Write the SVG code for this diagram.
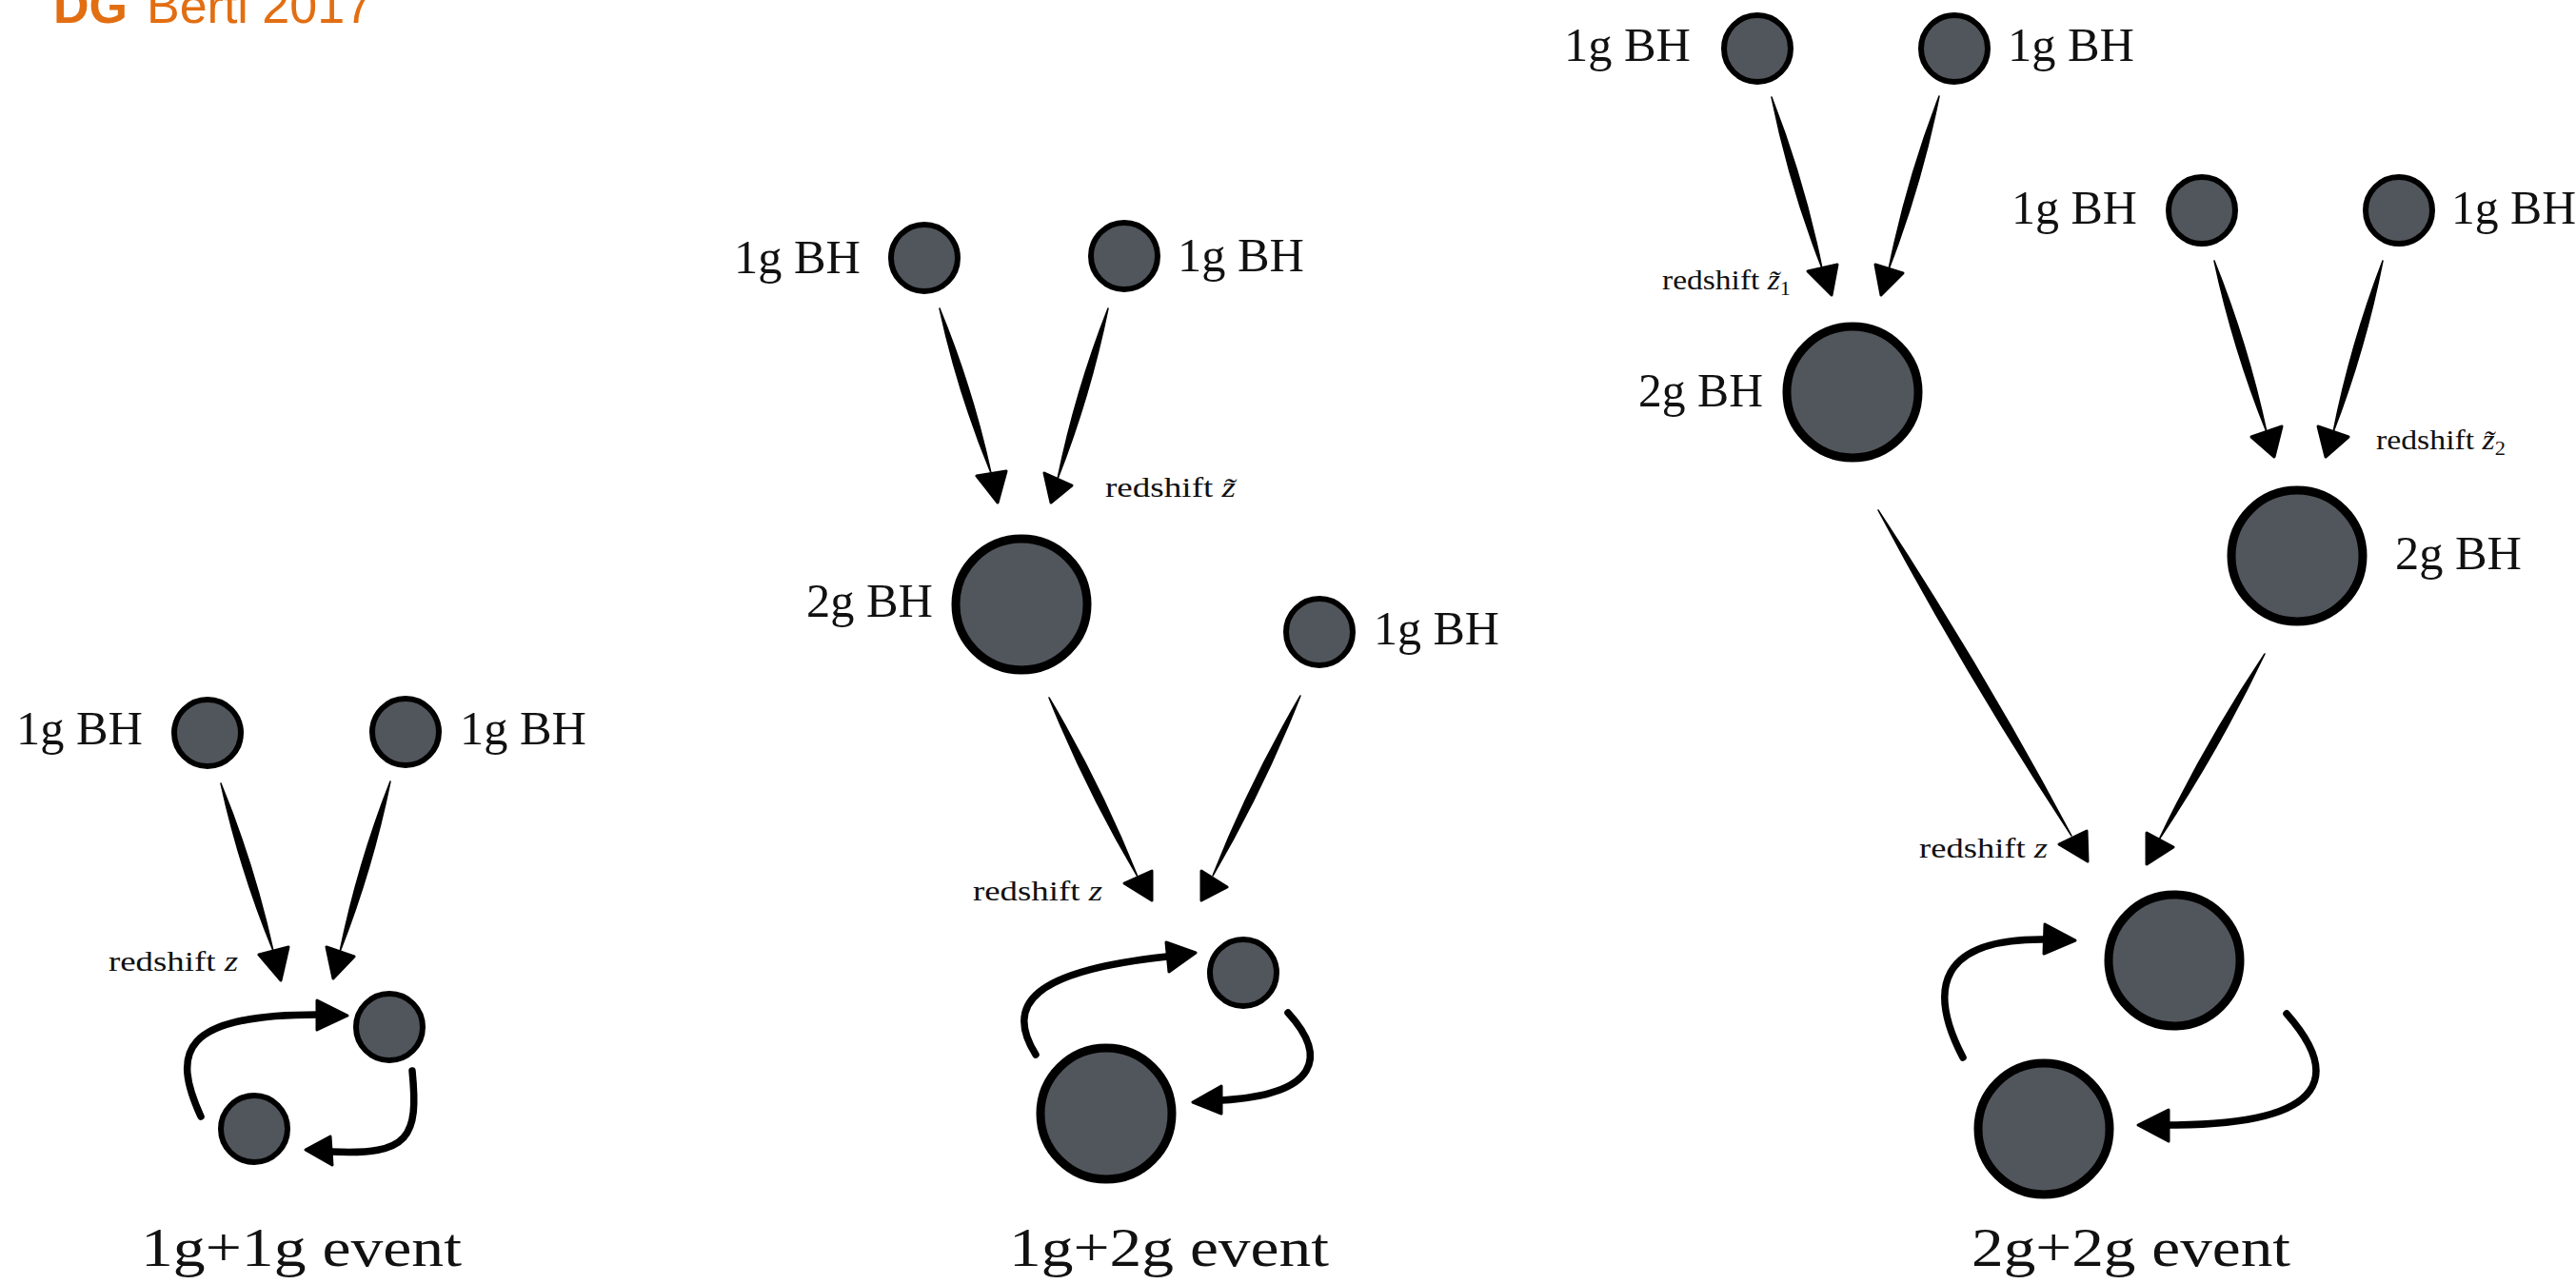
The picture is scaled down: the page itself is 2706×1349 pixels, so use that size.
<svg xmlns="http://www.w3.org/2000/svg" width="2706" height="1349" viewBox="0 0 2706 1349">
<style>
.bg{fill:#ffffff}
.title{font-family:"Liberation Sans",Arial,sans-serif;font-size:52px;fill:#e26e12}
.lbl{font-family:"Liberation Serif","Times New Roman",serif;font-size:50px;fill:#111}
.rs{font-family:"Liberation Serif","Times New Roman",serif;font-size:30px;fill:#111}
.ev{font-family:"Liberation Serif","Times New Roman",serif;font-size:58px;fill:#111}
.n1{fill:#51565c;stroke:#000;stroke-width:6}
.n2{fill:#51565c;stroke:#000;stroke-width:9}
.ln{fill:#000;stroke:#000;stroke-width:1.5;stroke-linejoin:round}
.cv{fill:none;stroke:#000;stroke-width:7.5;stroke-linecap:round}
.hd{fill:#000;stroke:#000;stroke-width:3;stroke-linejoin:round}
</style>
<rect class="bg" x="0" y="0" width="2706" height="1349"/>
<g id="title">
<text class="title" x="56" y="24"><tspan font-weight="bold">DG</tspan><tspan dx="20">Berti 2017</tspan></text>
</g>
<g id="connectors">
<!-- panel 1 -->
<path class="ln" d="M232,823 Q251.9,913.4 287,999 Q267.1,908.6 232,823 Z"/>
<path class="hd" d="M272,1003 L303,995 L295,1030 Z"/>
<path class="ln" d="M410,821 Q375.8,908.2 357,1000 Q391.2,912.8 410,821 Z"/>
<path class="hd" d="M343,995 L372,1005 L350,1028 Z"/>
<path class="cv" d="M211,1173 C180,1105 190,1066 334,1066"/>
<path class="hd" d="M333,1051 L365,1067 L333,1082 Z"/>
<path class="cv" d="M433,1125 C440,1195 430,1214 348,1210"/>
<path class="hd" d="M347,1194 L321,1208 L349,1224 Z"/>
<!-- panel 2 -->
<path class="ln" d="M987,324 Q1006.4,412.9 1041,497 Q1021.6,408.1 987,324 Z"/>
<path class="hd" d="M1026,500 L1057,495 L1048,528 Z"/>
<path class="ln" d="M1164,324 Q1129.8,411.2 1111,503 Q1145.2,415.8 1164,324 Z"/>
<path class="hd" d="M1097,497 L1126,510 L1104,528 Z"/>
<path class="ln" d="M1102,733 Q1141.3,830.5 1195,921 Q1155.7,823.5 1102,733 Z"/>
<path class="hd" d="M1181,928 L1210,915 L1210,946 Z"/>
<path class="ln" d="M1366,731 Q1312.8,822 1274,920 Q1327.2,829 1366,731 Z"/>
<path class="hd" d="M1262,915 L1289,932 L1262,946 Z"/>
<path class="cv" d="M1088,1108 C1055,1055 1085,1020 1226,1005"/>
<path class="hd" d="M1225,990 L1256,1001 L1228,1021 Z"/>
<path class="cv" d="M1353,1064 C1395,1110 1385,1150 1283,1156"/>
<path class="hd" d="M1283,1141 L1253,1158 L1283,1170 Z"/>
<!-- panel 3 -->
<path class="ln" d="M1861,102 Q1879.8,194.3 1914,282 Q1895.2,189.7 1861,102 Z"/>
<path class="hd" d="M1899,285 L1930,278 L1924,310 Z"/>
<path class="ln" d="M2037,101 Q2002.8,189.8 1984,283 Q2018.2,194.2 2037,101 Z"/>
<path class="hd" d="M1970,278 L1999,287 L1976,310 Z"/>
<path class="ln" d="M2326,274 Q2345.9,366.3 2381,454 Q2361.1,361.7 2326,274 Z"/>
<path class="hd" d="M2365,459 L2397,448 L2389,480 Z"/>
<path class="ln" d="M2503,274 Q2469.3,361.8 2451,454 Q2484.7,366.2 2503,274 Z"/>
<path class="hd" d="M2435,448 L2467,459 L2443,480 Z"/>
<path class="ln" d="M1973,536 Q2066.6,711.7 2176,878 Q2082.4,702.3 1973,536 Z"/>
<path class="hd" d="M2163,887 L2192,873 L2193,905 Z"/>
<path class="ln" d="M2379,687 Q2316.5,780.5 2268,882 Q2330.5,788.5 2379,687 Z"/>
<path class="hd" d="M2255,875 L2283,890 L2255,908 Z"/>
<path class="cv" d="M2062,1111 C2025,1040 2035,985 2150,987"/>
<path class="hd" d="M2148,971 L2180,988 L2147,1002 Z"/>
<path class="cv" d="M2402,1065 C2455,1125 2455,1182 2278,1182"/>
<path class="hd" d="M2278,1166 L2246,1182 L2278,1199 Z"/>
</g>
<g id="p1-1g-left"><circle class="n1" cx="218" cy="770" r="35"/><text class="lbl" x="17" y="782" textLength="133" lengthAdjust="spacingAndGlyphs">1g BH</text></g>
<g id="p1-1g-right"><circle class="n1" cx="426" cy="769" r="35"/><text class="lbl" x="483" y="782" textLength="133" lengthAdjust="spacingAndGlyphs">1g BH</text></g>
<g id="p1-redshift"><text class="rs" x="114" y="1020" textLength="136" lengthAdjust="spacingAndGlyphs">redshift <tspan font-style="italic">z</tspan></text></g>
<g id="p1-bin-a"><circle class="n1" cx="409" cy="1079" r="35"/></g>
<g id="p1-bin-b"><circle class="n1" cx="267" cy="1186" r="35"/></g>
<g id="p1-caption"><text class="ev" x="148" y="1330" textLength="337" lengthAdjust="spacingAndGlyphs">1g+1g event</text></g>

<g id="p2-1g-left"><circle class="n1" cx="971" cy="271" r="35"/><text class="lbl" x="771" y="287" textLength="133" lengthAdjust="spacingAndGlyphs">1g BH</text></g>
<g id="p2-1g-right"><circle class="n1" cx="1181" cy="269" r="35"/><text class="lbl" x="1237" y="285" textLength="133" lengthAdjust="spacingAndGlyphs">1g BH</text></g>
<g id="p2-redshift-tilde"><text class="rs" x="1161" y="522" textLength="137" lengthAdjust="spacingAndGlyphs">redshift <tspan font-style="italic">z̃</tspan></text></g>
<g id="p2-2g"><circle class="n2" cx="1073" cy="635" r="69"/><text class="lbl" x="847" y="648" textLength="133" lengthAdjust="spacingAndGlyphs">2g BH</text></g>
<g id="p2-1g-third"><circle class="n1" cx="1386" cy="664" r="35"/><text class="lbl" x="1443" y="677" textLength="132" lengthAdjust="spacingAndGlyphs">1g BH</text></g>
<g id="p2-redshift"><text class="rs" x="1022" y="946" textLength="136" lengthAdjust="spacingAndGlyphs">redshift <tspan font-style="italic">z</tspan></text></g>
<g id="p2-bin-a"><circle class="n1" cx="1306" cy="1022" r="35"/></g>
<g id="p2-bin-b"><circle class="n2" cx="1162" cy="1170" r="69"/></g>
<g id="p2-caption"><text class="ev" x="1060" y="1330" textLength="336" lengthAdjust="spacingAndGlyphs">1g+2g event</text></g>

<g id="p3-1g-a"><circle class="n1" cx="1846" cy="51" r="35"/><text class="lbl" x="1643" y="64" textLength="133" lengthAdjust="spacingAndGlyphs">1g BH</text></g>
<g id="p3-1g-b"><circle class="n1" cx="2053" cy="51" r="35"/><text class="lbl" x="2109" y="64" textLength="133" lengthAdjust="spacingAndGlyphs">1g BH</text></g>
<g id="p3-redshift-1"><text class="rs" x="1746" y="304" textLength="135" lengthAdjust="spacingAndGlyphs">redshift <tspan font-style="italic">z̃</tspan><tspan font-size="20" dy="6">1</tspan></text></g>
<g id="p3-2g-left"><circle class="n2" cx="1946" cy="412" r="69"/><text class="lbl" x="1721" y="427" textLength="131" lengthAdjust="spacingAndGlyphs">2g BH</text></g>
<g id="p3-1g-c"><circle class="n1" cx="2313" cy="221" r="35"/><text class="lbl" x="2113" y="235" textLength="132" lengthAdjust="spacingAndGlyphs">1g BH</text></g>
<g id="p3-1g-d"><circle class="n1" cx="2520" cy="221" r="35"/><text class="lbl" x="2575" y="235" textLength="131" lengthAdjust="spacingAndGlyphs">1g BH</text></g>
<g id="p3-redshift-2"><text class="rs" x="2496" y="472" textLength="136" lengthAdjust="spacingAndGlyphs">redshift <tspan font-style="italic">z̃</tspan><tspan font-size="20" dy="6">2</tspan></text></g>
<g id="p3-2g-right"><circle class="n2" cx="2413" cy="584" r="69"/><text class="lbl" x="2516" y="598" textLength="133" lengthAdjust="spacingAndGlyphs">2g BH</text></g>
<g id="p3-redshift"><text class="rs" x="2016" y="901" textLength="135" lengthAdjust="spacingAndGlyphs">redshift <tspan font-style="italic">z</tspan></text></g>
<g id="p3-bin-a"><circle class="n2" cx="2284" cy="1009" r="69"/></g>
<g id="p3-bin-b"><circle class="n2" cx="2147" cy="1186" r="69"/></g>
<g id="p3-caption"><text class="ev" x="2071" y="1330" textLength="335" lengthAdjust="spacingAndGlyphs">2g+2g event</text></g>
</svg>
